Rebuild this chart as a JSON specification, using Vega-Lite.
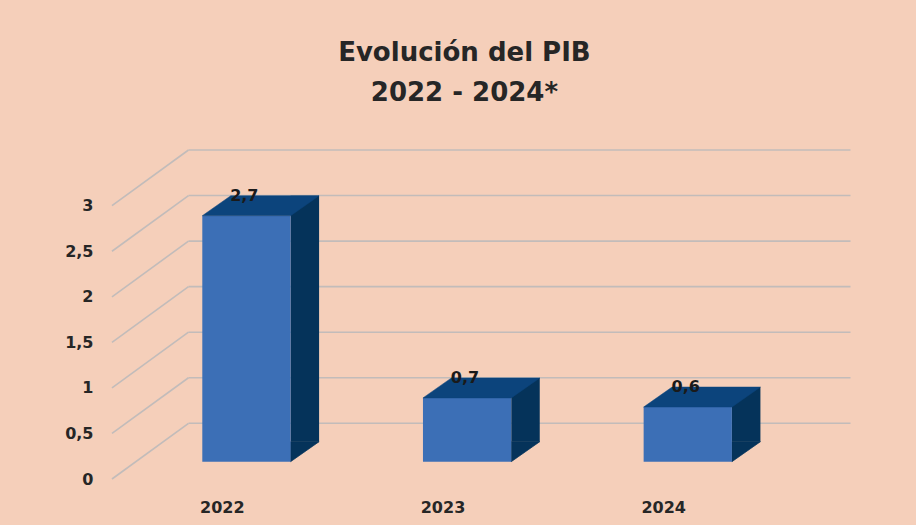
{
  "$schema": "https://vega.github.io/schema/vega-lite/v6.json",
  "width": 662,
  "height": 273.3,
  "autosize": {"type": "none"},
  "padding": {"left": 112, "top": 205.7, "right": 142, "bottom": 46},
  "background": "#f5cfba",
  "config": {
    "view": {"stroke": null},
    "locale": {"number": {"decimal": ",", "thousands": ".", "grouping": [3], "currency": ["", " €"]}}
  },
  "title": {
    "text": ["Evolución del PIB", "2022 - 2024*"],
    "font": "DejaVu Sans",
    "fontWeight": "bold",
    "fontSize": 26,
    "lineHeight": 40,
    "color": "#262626",
    "anchor": "middle",
    "dx": 21.4,
    "offset": 43
  },
  "datasets": {
    "pib": [
      {"year": "2022", "value": 2.7},
      {"year": "2023", "value": 0.7},
      {"year": "2024", "value": 0.6}
    ],
    "grid": [
      {"v": 0}, {"v": 0.5}, {"v": 1}, {"v": 1.5}, {"v": 2}, {"v": 2.5}, {"v": 3}
    ]
  },
  "layer": [
    {
      "data": {"name": "grid"},
      "mark": {"type": "rule", "color": "#c2bcba", "strokeWidth": 1.6, "x2Offset": 76.5, "y2Offset": -55.7},
      "encoding": {
        "x": {"value": 0},
        "x2": {"value": 0},
        "y": {"field": "v", "type": "quantitative", "scale": {"domain": [0, 3], "nice": false, "zero": true},
              "axis": {"title": null, "values": [0, 0.5, 1, 1.5, 2, 2.5, 3], "format": "~g", "grid": false, "domain": false, "ticks": false,
                       "labelPadding": 19, "labelFont": "DejaVu Sans", "labelFontWeight": "bold", "labelFontSize": 16, "labelColor": "#262626"}},
        "y2": {"field": "v"}
      }
    },
    {
      "data": {"name": "grid"},
      "mark": {"type": "rule", "color": "#c2bcba", "strokeWidth": 1.6, "xOffset": 76.5, "x2Offset": 76.5, "yOffset": -55.7, "y2Offset": -55.7},
      "encoding": {
        "x": {"value": 0},
        "x2": {"value": {"expr": "width"}},
        "y": {"field": "v", "type": "quantitative"},
        "y2": {"field": "v"}
      }
    },
    {
      "data": {"name": "pib"},
      "mark": {"type": "bar", "color": "#05335a", "width": 28.5, "xOffset": 82.5, "yOffset": -37.3},
      "encoding": {
        "x": {
          "field": "year", "type": "nominal",
          "scale": {"paddingInner": 0.6, "paddingOuter": 0.3},
          "axis": {"title": null, "labelAngle": 0, "domain": false, "ticks": false, "labelPadding": 20,
                   "labelFont": "DejaVu Sans", "labelFontWeight": "bold", "labelFontSize": 16, "labelColor": "#262626"}
        },
        "y": {"field": "value", "type": "quantitative"}
      }
    },
    {
      "data": {"name": "pib"},
      "mark": {"type": "point", "shape": "M0,0L0,-20L28.5,-20Z", "size": 4, "filled": true, "opacity": 1,
               "color": "#05335a", "stroke": "#05335a", "strokeWidth": 0.7, "xOffset": 68.25, "yOffset": -17.3},
      "encoding": {
        "x": {"field": "year", "type": "nominal"},
        "y": {"datum": 0}
      }
    },
    {
      "data": {"name": "pib"},
      "mark": {"type": "bar", "color": "#3c6fb6", "xOffset": 24.1, "yOffset": -17.3},
      "encoding": {
        "x": {"field": "year", "type": "nominal"},
        "y": {"field": "value", "type": "quantitative"}
      }
    },
    {
      "data": {"name": "pib"},
      "mark": {"type": "point", "shape": "M-44.15,0L44.15,0L72.65,-20L-15.65,-20Z", "size": 4, "filled": true, "opacity": 1,
               "color": "#0c447c", "stroke": "#0c447c", "strokeWidth": 0.5, "xOffset": 24.1, "yOffset": -17.3},
      "encoding": {
        "x": {"field": "year", "type": "nominal"},
        "y": {"field": "value", "type": "quantitative"}
      }
    },
    {
      "data": {"name": "pib"},
      "mark": {"type": "text", "font": "DejaVu Sans", "fontWeight": "bold", "fontSize": 16, "color": "#1a1a1a",
               "baseline": "alphabetic", "align": "center", "xOffset": 22, "yOffset": -32.5},
      "encoding": {
        "x": {"field": "year", "type": "nominal"},
        "y": {"field": "value", "type": "quantitative"},
        "text": {"field": "value", "type": "quantitative", "format": ".1f"}
      }
    }
  ]
}
